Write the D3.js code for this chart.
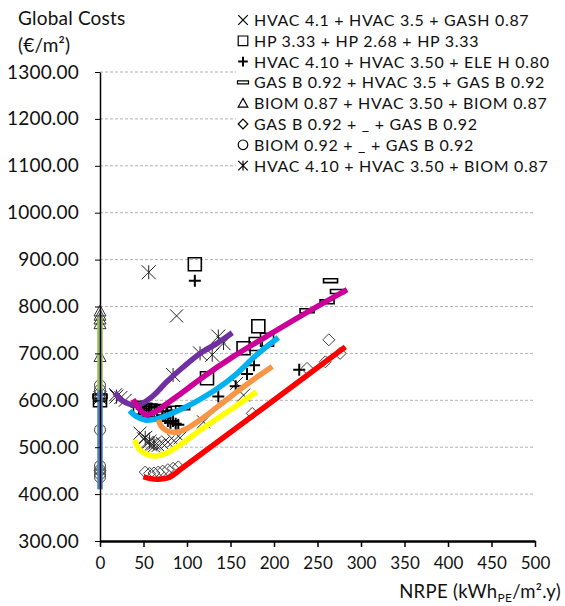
<!DOCTYPE html>
<html>
<head>
<meta charset="utf-8">
<script src="https://cdn.jsdelivr.net/npm/d3@7"></script>
<style>
  html, body { margin: 0; padding: 0; background: #fff; }
  svg { display: block; font-family: Lato, "Liberation Sans", sans-serif; }
</style>
</head>
<body>
<svg id="chart" width="565" height="606"></svg>
<script>
// Global cost vs non-renewable primary energy for the system combinations.
const yTicks = [300, 400, 500, 600, 700, 800, 900, 1000, 1100, 1200, 1300];
const xTicks = [0, 50, 100, 150, 200, 250, 300, 350, 400, 450, 500];

const seriesNames = [
  "HVAC 4.1 + HVAC 3.5 + GASH 0.87",
  "HP 3.33 + HP 2.68 + HP 3.33",
  "HVAC 4.10 + HVAC 3.50 + ELE H 0.80",
  "GAS B 0.92 + HVAC 3.5 + GAS B 0.92",
  "BIOM 0.87 + HVAC 3.50 + BIOM 0.87",
  "GAS B 0.92 + _ + GAS B 0.92",
  "BIOM 0.92 + _ + GAS B 0.92",
  "HVAC 4.10 + HVAC 3.50 + BIOM 0.87"
];
const seriesSymbols = ["x", "square", "plus", "dash", "triangle", "diamond", "circle", "asterisk"];

// [NRPE, global cost] for each configuration
const hvacGashPts = [[18,612],[24,606],[29,600],[46,530],[50,518],[54,510],[58,505],[62,502],[67,504],[72,508],[78,511],[85,514],[92,520],[88,780],[119,554],[157,636],[165,611],[0,605]];
const hpPts = [[46,584],[52,580],[58,578],[64,577],[70,575],[109,890],[123,647],[165,711],[179,720],[182,758],[192,729],[0,600]];
const hvacEleHPts = [[72,568],[75,562],[78,556],[81,552],[84,556],[87,550],[90,548],[109,855],[136,608],[156,630],[169,656],[177,675],[229,665],[0,598]];
const gasHvacGasPts = [[44,590],[50,586],[57,582],[64,580],[74,581],[84,583],[95,584],[238,791],[261,810],[265,855],[273,832],[0,608]];
const biomHvacBiomPts = [[0,790],[0,781],[0,773],[0,763],[0,693],[0,612]];
const gasGasPts = [[52,447],[57,444],[62,445],[67,447],[72,449],[78,452],[84,455],[90,458],[175,572],[238,668],[259,682],[263,729],[276,700],[0,450]];
const biomGasPts = [[0,632],[0,622],[0,614],[0,537],[0,460],[0,451],[0,443],[0,436]];
const hvacBiomPts = [[19,608],[56,873],[84,654],[115,700],[129,697],[136,736],[142,722],[52,520],[57,512],[62,508]];

const seriesPoints = [hvacGashPts, hpPts, hvacEleHPts, gasHvacGasPts, biomHvacBiomPts, gasGasPts, biomGasPts, hvacBiomPts];

// Trend curves
const greenTrend = [[0,622],[0,778]];
const blueTrend = [[0,410],[0,622]];
const purpleTrend = [[17,616],[25,600],[34,592],[44,590],[60,608],[77,640],[95,670],[115,700],[135,722],[152,744]];
const magentaTrend = [[38,602],[44,585],[52,570],[64,576],[77,593],[95,617],[115,645],[153,693],[192,737],[230,779],[284,836]];
const cyanTrend = [[34,578],[42,565],[52,558],[65,560],[80,570],[98,585],[115,602],[135,625],[155,653],[180,697],[205,734]];
const orangeTrend = [[67,558],[71,543],[78,534],[88,532],[100,540],[118,562],[135,586],[165,629],[198,672]];
const yellowTrend = [[40,515],[44,498],[52,486],[63,481],[76,487],[92,505],[115,536],[150,580],[180,618]];
const redTrend = [[50,437],[58,433],[70,432],[80,436],[95,456],[282,714]];

const trends = [
  { pts: greenTrend, color: "#9bbb59" },
  { pts: blueTrend, color: "#4f81bd" },
  { pts: purpleTrend, color: "#7030a0" },
  { pts: magentaTrend, color: "#cc0099" },
  { pts: cyanTrend, color: "#00b0f0" },
  { pts: orangeTrend, color: "#f79646" },
  { pts: yellowTrend, color: "#ffff00" },
  { pts: redTrend, color: "#ff0000" }
];

const svg = d3.select("#chart");
const x = d3.scaleLinear().domain([0, 500]).range([100, 535]);
const y = d3.scaleLinear().domain([300, 1300]).range([541, 72]);

// gridlines
svg.append("g")
  .selectAll("line")
  .data(yTicks.filter(v => v > 300))
  .join("line")
  .attr("x1", x(0)).attr("x2", x(500))
  .attr("y1", d => y(d)).attr("y2", d => y(d))
  .attr("stroke", "#b3b3b3")
  .attr("stroke-width", 1)
  .attr("stroke-dasharray", "3,2");

// marker shapes
function markerPath(type, r) {
  switch (type) {
    case "x": return `M${-r},${-r}L${r},${r}M${-r},${r}L${r},${-r}`;
    case "square": return `M${-r},${-r}h${2*r}v${2*r}h${-2*r}Z`;
    case "plus": return `M${-r},0H${r}M0,${-r}V${r}`;
    case "dash": return `M${-r},${-r*0.28}h${2*r}v${r*0.56}h${-2*r}Z`;
    case "triangle": return `M0,${-r}L${r},${r*0.8}L${-r},${r*0.8}Z`;
    case "diamond": return `M0,${-r}L${r},0L0,${r}L${-r},0Z`;
    case "circle": return `M${r},0A${r},${r} 0 1,1 ${-r},0A${r},${r} 0 1,1 ${r},0Z`;
    case "asterisk": return `M${-r},${-r}L${r},${r}M${-r},${r}L${r},${-r}M0,${-r}V${r}`;
  }
}
const markerSize = { x: 6.5, square: 6.5, plus: 6, dash: 7, triangle: 6, diamond: 6, circle: 5.5, asterisk: 7 };
const markerWidth = { x: 1, square: 1.6, plus: 2, dash: 1.6, triangle: 1, diamond: 1, circle: 1, asterisk: 1 };
const markerColor = { x: "#222", square: "#000", plus: "#000", dash: "#000", triangle: "#333", diamond: "#444", circle: "#444", asterisk: "#222" };

const markers = svg.append("g");
seriesPoints.forEach((pts, i) => {
  const t = seriesSymbols[i];
  markers.append("g")
    .selectAll("path")
    .data(pts)
    .join("path")
    .attr("transform", d => `translate(${x(d[0])},${y(d[1])})`)
    .attr("d", markerPath(t, markerSize[t]))
    .attr("fill", "none")
    .attr("stroke", markerColor[t])
    .attr("stroke-width", markerWidth[t]);
});

// trend curves on top of the markers
const line = d3.line().x(d => x(d[0])).y(d => y(d[1])).curve(d3.curveCatmullRom.alpha(0.5));
svg.append("g")
  .selectAll("path")
  .data(trends)
  .join("path")
  .attr("d", d => line(d.pts))
  .attr("fill", "none")
  .attr("stroke", d => d.color)
  .attr("stroke-width", 5.5)
  .attr("stroke-linecap", "butt")
  .attr("stroke-linejoin", "round");

// axes
const yAxis = svg.append("g")
  .attr("transform", `translate(${x(0)},0)`)
  .call(d3.axisLeft(y).tickValues(yTicks).tickFormat(d3.format(".2f")).tickSize(5).tickPadding(16).tickSizeOuter(0));
yAxis.select(".domain").attr("stroke", "#000").attr("stroke-width", 1.5);
yAxis.selectAll(".tick line").attr("stroke", "#000");
yAxis.selectAll(".tick text").attr("font-size", 19).attr("letter-spacing", 0.2).attr("fill", "#111").attr("font-family", "Lato, sans-serif");

const xAxis = svg.append("g")
  .attr("transform", `translate(0,${y(300)})`)
  .call(d3.axisBottom(x).tickValues(xTicks).tickFormat(d3.format("d")).tickSize(6).tickPadding(10).tickSizeOuter(0));
xAxis.select(".domain").attr("stroke", "#000").attr("stroke-width", 2.5);
xAxis.selectAll(".tick line").attr("stroke", "#000").attr("stroke-width", 1.5);
xAxis.selectAll(".tick text").attr("font-size", 17).attr("fill", "#111").attr("font-family", "Lato, sans-serif");

// axis titles
svg.append("text").attr("x", 18).attr("y", 25).attr("font-size", 19).attr("letter-spacing", 0.2).attr("fill", "#111").text("Global Costs");
svg.append("text").attr("x", 18).attr("y", 52).attr("font-size", 19).attr("letter-spacing", 0.2).attr("fill", "#111").text("(€/m²)");

const xt = svg.append("text").attr("x", 561).attr("y", 598).attr("text-anchor", "end").attr("font-size", 18.5).attr("letter-spacing", 0.3).attr("fill", "#111");
xt.append("tspan").text("NRPE (kWh");
xt.append("tspan").attr("font-size", 12).attr("dy", 4).text("PE");
xt.append("tspan").attr("dy", -4).text("/m².y)");

// legend
const legend = svg.append("g");
legend.append("rect").attr("x", 236).attr("y", 6).attr("width", 329).attr("height", 172).attr("fill", "#fff");
const rows = legend.selectAll("g.row")
  .data(seriesNames)
  .join("g")
  .attr("class", "row")
  .attr("transform", (d, i) => `translate(243,${20 + i * 20.8})`);
rows.append("path")
  .attr("d", (d, i) => markerPath(seriesSymbols[i], seriesSymbols[i] === "dash" ? 5.5 : 4.8))
  .attr("fill", "none")
  .attr("stroke", "#000")
  .attr("stroke-width", (d, i) => seriesSymbols[i] === "plus" ? 2 : 1.2);
rows.append("text")
  .attr("x", 11)
  .attr("y", 6)
  .attr("font-size", 16)
  .attr("letter-spacing", 0.7)
  .attr("fill", "#111")
  .text(d => d);
</script>
</body>
</html>
